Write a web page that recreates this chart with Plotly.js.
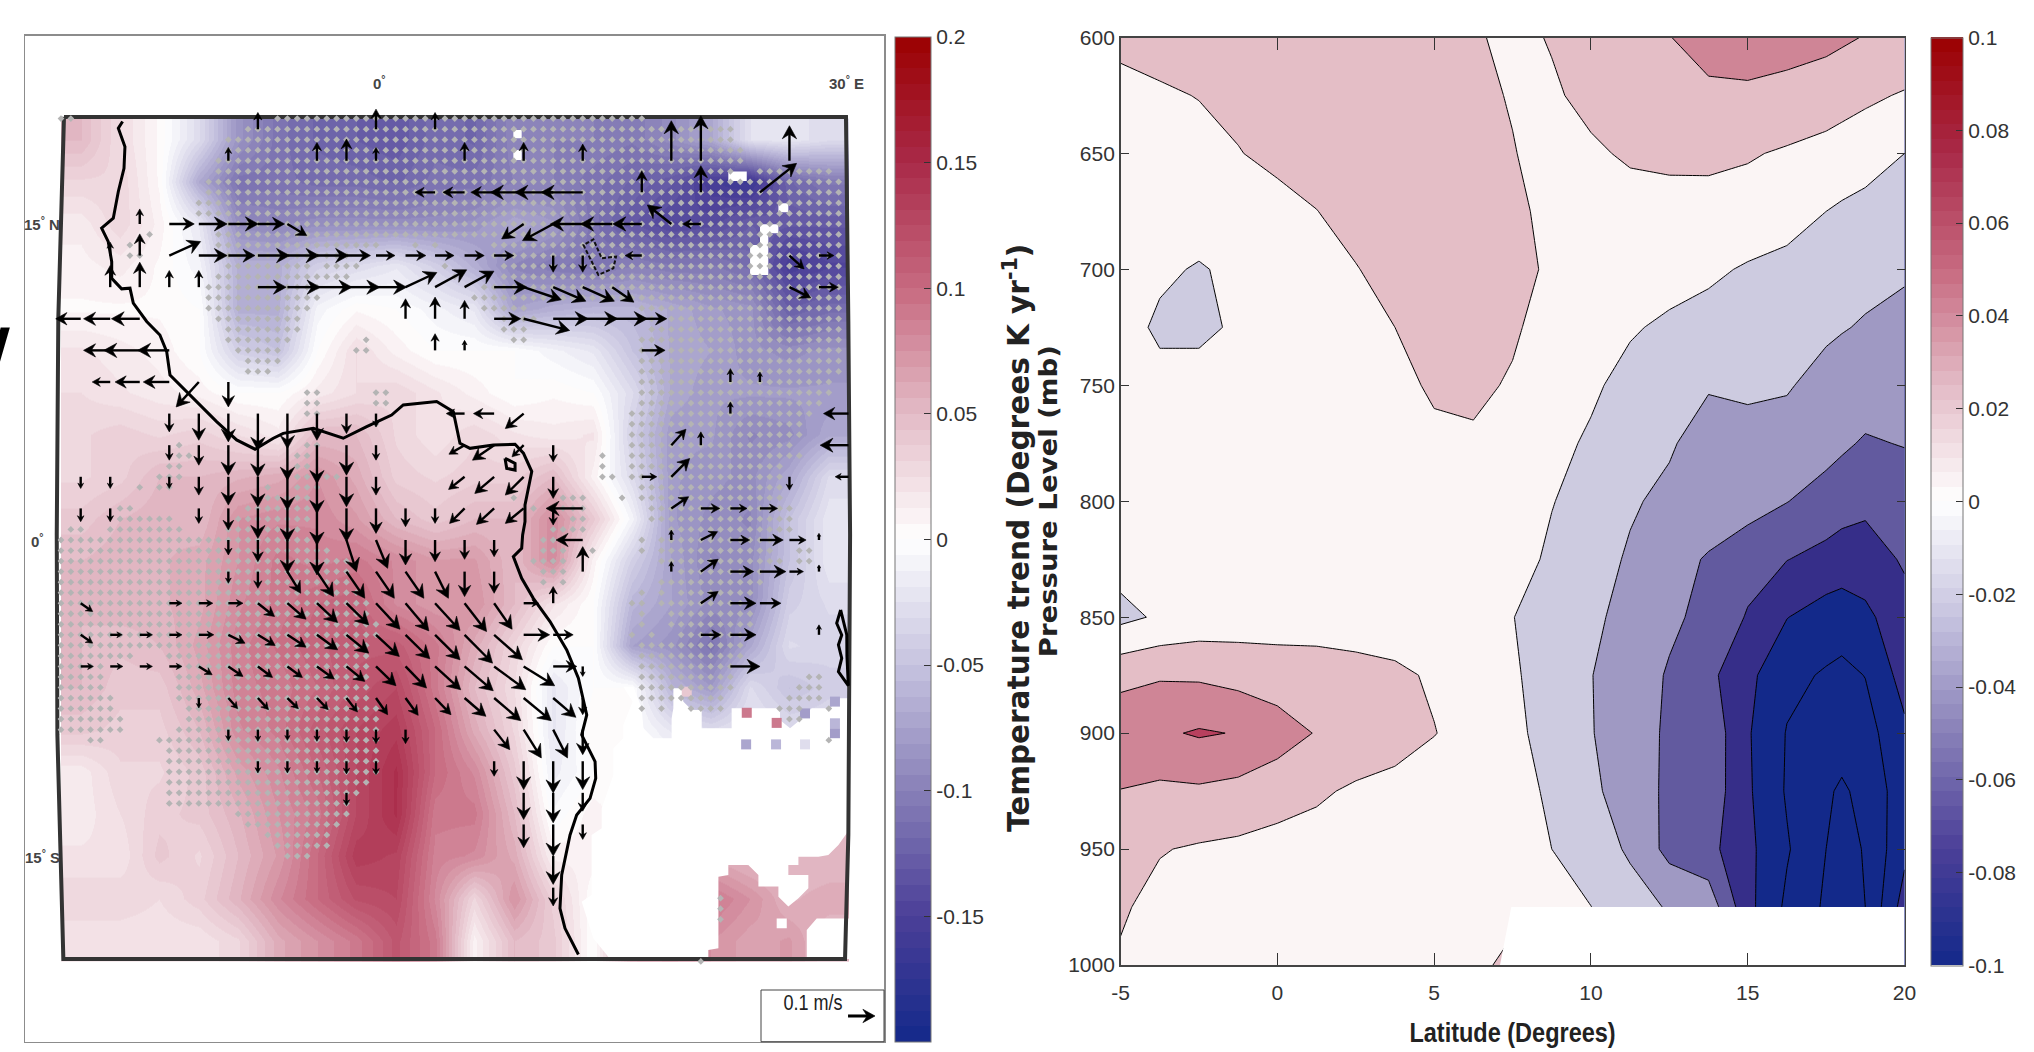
<!DOCTYPE html>
<html><head><meta charset="utf-8">
<script src="https://cdn.plot.ly/plotly-3.0.1.min.js"></script>
<style>html,body{margin:0;padding:0;background:#fff;overflow:hidden}</style>
</head><body><div id="chart" style="width:2034px;height:1052px"></div>
<script>
// ---------- Left panel: trend map (K/yr) ----------
const heatLon = [-18.75,-16.25,-13.75,-11.25,-8.75,-6.25,-3.75,-1.25,1.25,3.75,6.25,8.75,11.25,13.75,16.25,18.75,21.25,23.75,26.25,28.75];
const heatLat = [19,17,15,13,11,9,7,5,3,1,-1,-3,-5,-7,-9,-11,-13,-15,-17,-19];
const heatTrend = [
[.05,.025,.005,-.03,-.085,-.11,-.12,-.125,-.13,-.115,-.12,-.095,-.1,-.1,-.105,-.09,-.07,-.025,-.02,-.03],
[.03,.03,.005,-.07,-.11,-.11,-.115,-.115,-.12,-.11,-.11,-.1,-.1,-.11,-.12,-.13,-.155,-.165,-.12,-.105],
[.015,.03,.01,-.02,-.09,-.095,-.09,-.09,-.09,-.09,-.085,-.07,-.08,-.11,-.13,-.145,-.14,-.125,-.13,-.13],
[.01,.015,.005,-.01,-.065,-.065,-.04,-.03,-.02,-.04,-.065,-.095,-.105,-.11,-.1,-.105,-.105,-.115,-.155,-.145],
[.005,.005,.005,0,-.065,-.065,-.01,.005,0,-.01,-.02,-.075,-.065,-.06,-.06,-.07,-.08,-.085,-.125,-.115],
[.02,.015,.01,0,-.04,-.05,0,.025,.01,0,0,0,-.01,-.02,-.05,-.07,-.075,-.085,-.09,-.085],
[.025,.02,.015,.01,0,0,.015,.025,.03,.02,.01,0,.005,0,-.03,-.07,-.08,-.08,-.08,-.08],
[.03,.035,.03,.035,.025,.015,.05,.05,.03,.02,.03,.02,.015,.02,-.04,-.08,-.08,-.095,-.09,-.07],
[.03,.035,.05,.05,.055,.06,.075,.06,.035,.03,.035,.035,.05,.01,-.03,-.08,-.085,-.09,-.07,-.03],
[.04,.05,.055,.05,.075,.08,.08,.07,.05,.04,.05,.05,.08,.04,-.01,-.08,-.09,-.095,-.05,-.02],
[.05,.055,.055,.06,.075,.09,.085,.09,.08,.07,.07,.05,.08,.01,-.04,-.075,-.095,-.09,-.05,-.02],
[.05,.055,.055,.06,.08,.09,.10,.105,.08,.07,.075,.05,.02,0,-.06,-.075,-.09,-.09,-.04,-.03],
[.05,.045,.05,.065,.085,.095,.105,.11,.11,.09,.06,.03,0,0,-.075,-.085,-.11,-.07,-.03,-.035],
[.05,.04,.04,.06,.085,.09,.10,.115,.125,.09,.05,.025,-.02,0,0,-.06,-.08,-.03,-.05,-.04],
[.04,.035,.035,.05,.08,.09,.11,.125,.135,.10,.06,.03,-.02,.005,0,-.02,-.03,-.02,-.03,-.03],
[.015,.03,.03,.04,.065,.08,.10,.125,.145,.10,.08,.04,-.015,0,0,0,0,0,0,0],
[.015,.025,.035,.04,.055,.075,.09,.125,.145,.09,.09,.05,-.005,.01,0,.05,.05,.05,.05,.05],
[.02,.02,.04,.03,.05,.07,.10,.135,.13,.085,.08,.06,.01,.01,.06,.06,.06,.05,.05,.05],
[.03,.03,.025,.035,.055,.08,.10,.12,.125,.08,.03,.075,.035,0,.08,.09,.09,.075,.055,.06],
[.02,.02,.02,.02,.03,.06,.075,.09,.115,.09,.01,.05,.04,0,.08,.09,.075,.065,.07,.05]
];
// isolated valid cells in the otherwise masked land area
const cellLon = [23.54,25.44,23.5,25.4,27.24,29.14,29.14,27.24,29.14,19.73];
const cellLat = [-8.2,-8.68,-9.7,-9.7,-9.7,-9.17,-8.7,-8.23,-7.67,-7.2];
const cellVal = [.09,.09,-.07,-.06,-.03,-.08,-.06,-.08,-.07,.04];
// no-data regions (lon,lat outlines, null separates regions)
const maskLon = [14.86,13.8,13.06,13.69,13.69,14.33,14.33,15.07,15.07,15.7,15.7,16.3,15.7,16.34,16.87,16.98,17.61,18.77,18.77,18.88,18.88,19.41,19.51,20.04,20.68,20.68,22.58,22.58,25.65,25.65,26.29,26.92,27.66,28.83,29.46,30.3,30.3,29.89,29.36,28.72,28.09,26.82,26.82,26.18,26.18,27.45,27.45,26.82,26.18,25.55,25.55,24.28,24.28,23.64,22.37,22.37,21.74,21.74,21.1,21.1,14.86,null,
 27.35,27.35,27.98,30.3,30.3,27.35,null, 25.44,26.08,26.08,25.44,25.44,null,
 8.72,9.25,9.25,8.72,8.72,null, 8.72,9.25,9.25,8.72,8.72,null, 22.37,23.54,23.54,22.37,22.37,null, 25.55,26.18,26.18,25.55,25.55,null,
 24.38,25.55,25.55,24.91,24.91,23.75,23.75,24.38,24.38];
const maskLat = [-19.89,-18.9,-17.17,-16.85,-14,-13.68,-12.73,-11.15,-9.89,-9.41,-8.78,-7.67,-6.96,-6.96,-7.99,-8.94,-9.41,-9.41,-8.46,-7.99,-7.04,-7.04,-7.67,-8.07,-8.07,-8.94,-8.94,-7.99,-7.99,-8.54,-8.94,-8.54,-7.99,-7.99,-7.51,-7.51,-13.92,-13.92,-14.48,-14.95,-15.03,-15.03,-15.42,-15.42,-15.9,-15.9,-16.53,-17,-17.4,-16.93,-16.45,-16.45,-15.9,-15.42,-15.42,-15.9,-15.98,-19.38,-19.46,-19.89,-19.89,null,
 -19.89,-18.51,-17.96,-17.96,-19.89,-19.89,null, -17.96,-17.96,-18.43,-18.43,-17.96,null,
 19.46,19.46,19.07,19.07,19.46,null, 18.51,18.51,18.04,18.04,18.51,null, 17.49,17.49,17.04,17.04,17.49,null, 15.98,15.98,15.55,15.55,15.98,null,
 14.99,14.99,14.56,14.56,12.58,12.58,14,14,14.99];
const coastLon = [-16.09,-16.36,-15.94,-16,-16.36,-16.68,-17.42,-17,-16.78,-16.78,-16.15,-15.62,-15.41,-14.56,-13.72,-13.29,-13.08,-11.6,-10.12,-8.85,-7.68,-6.52,-5.89,-3.98,-2.08,-.59,.99,1.73,3.85,4.91,5.33,5.97,7.45,8.83,9.36,9.89,9.46,9.46,9.31,9.25,8.72,9.25,9.99,11.05,12.11,12.85,13.38,13.06,13.91,13.95,13.59,12.74,12.32,11.79,11.68,12,12.85,null,
 8.19,8.83,8.83,8.3,8.19,null, 29.5,29.25,29.57,29.36,29.57,29.36,29.99,29.9,29.89,29.5];
const coastLat = [19.86,19.54,18.67,17.64,16.54,15.27,14.8,14.16,13.21,12.42,11.92,11.95,11.24,10.37,9.73,8.94,7.83,6.73,5.62,4.75,4.31,4.83,5.06,5.3,4.83,5.38,5.93,6.41,6.57,6.09,4.59,4.35,4.51,4.54,4.12,3.25,1.66,.87,.24,-.39,-.79,-1.82,-2.77,-3.87,-5.22,-6.56,-8.3,-9.25,-10.52,-11.31,-12.26,-13.05,-14,-15.9,-17.48,-18.43,-19.67,null,
 3.88,3.64,3.32,3.4,3.88,null, -3.32,-3.95,-4.51,-4.98,-5.61,-6.25,-6.91,-5.5,-4.5,-3.32];
const lakeLon = [13.27,13.17,13.8,14.12,14.33,15.24,15.07,14.12,13.69,13.27];
const lakeLat = [13.85,14,14.27,13.69,13.37,13.45,12.9,12.58,13.21,13.85];
const frameLon = [-19.81,29.84,29.99,30.1,29.99,29.78,-19.85,-20.23,-20.27,-20.17,-19.81];
const frameLat = [20.08,20.08,10.35,.24,-14,-19.89,-19.89,-9.25,.24,10.54,20.08];
// significance stipple: [row n (lat=n*0.5), from m, to m, from m, to m...] with lon=m*0.625
const stippleRuns = [
[40,-32,-31,-10,27],[39,-13,36],[38,-15,36],[37,-15,37],[36,-16,37],[35,-16,36,39,46],[34,-17,47],[33,-17,47],[32,-18,47],[31,-18,47],[30,-16,47],
[29,-23,-23,-16,47],[28,-25,-25,-16,0,4,4,6,6,12,47],[27,-25,-24,-15,-3,12,47],[26,-15,-7,-5,-2,7,7,13,47],[25,-16,-3,8,8,13,47],[24,-17,-6,11,47],[23,-17,-6,10,47],
[22,-17,-7,11,15,27,47],[21,-16,-8,13,16,28,47],[20,-15,-8,13,15,28,47],[19,-15,-9,-1,-1,14,15,27,47],[18,-14,-10,-2,-1,27,47],[17,-13,-10,27,47],[16,-13,-11,27,47],[15,27,46],
[14,-7,-6,0,1,27,46],[13,-7,-6,0,1,27,45],[12,-7,-6,26,44],[11,0,0,26,43],[10,26,43],[9,-20,-20,-7,-6,26,42],[8,-20,-19,-8,-7,23,23,26,43],[7,-21,-20,-8,-7,23,23,26,41],
[6,-22,-20,-8,-4,23,24,26,41],[5,-24,-24,-22,-21,-11,-11,-8,-6,27,41],[4,-11,-7,14,14,19,21,25,25,27,41],[3,-26,-25,-13,-7,16,16,18,21,28,42],[2,-26,-21,-14,-7,20,21,28,42],[1,-31,-30,-27,-20,-15,-8,18,21,30,42],
[0,-32,-6,17,18,27,27,29,40],[-1,-32,-5,17,19,22,22,27,27,29,40,43,44],[-2,-32,-3,16,19,29,41,43,44],[-3,-32,-3,17,19,31,39],[-4,-32,-3,17,17,19,19,29,39],[-5,-32,-2,27,27,29,29,31,38],
[-6,-32,-1,26,27,29,38],[-7,-32,-1,27,27,30,38],[-8,-32,0,27,27,30,38],[-9,-32,0,26,26,28,28,31,38],[-10,-32,-1,27,37],[-11,-32,-25,-21,-1,27,37],[-12,-32,-28,-20,-1,27,36],[-13,-32,-28,-20,-1,27,36,44,45],
[-14,-32,-28,-20,-1,27,36,43,45],[-15,-32,-27,-20,-1,27,35,42,45],[-16,-32,-27,-19,0,27,27,29,29,32,35,41,43,46,46],[-17,-32,-26,-19,0,42,43],[-18,-32,-26,-20,0],[-19,-29,-28,-22,0,46,46],
[-20,-21,0],[-21,-21,0],[-22,-21,0],[-23,-21,-1],[-24,-21,-2],[-25,-21,-3],[-26,-14,-3],[-27,-13,-4],[-28,-11,-5],[-29,-10,-5],[-30,-9,-7],[-34,35,35],[-35,35,35],[-36,35,35],[-40,33,33]
];
// wind-change vectors: [lat, [k (lon=k*1.875), u, v], ...]; 81 units = 0.1 m/s
const windRows = [
[19.5,[-4,0,50],[0,0,60],[2,0,50]],
[18,[-5,0,40],[-2,0,55],[-1,0,65],[0,0,40],[3,0,55],[5,0,55],[7,0,50],[10,0,120],[11,0,135],[14,0,105]],
[16.5,[2,-60,0],[3,-65,0],[4,-70,0],[5,-100,0],[6,-115,0],[7,-125,0],[9,0,65],[11,0,80],[13,110,87]],
[15,[-8,0,45],[-7,75,0],[-6,85,0],[-5,90,0],[-4,80,0],[-3,58,-35],[5,-66,-45],[6,-92,-50],[7,-97,0],[8,-95,0],[9,-87,0],[10,-72,57],[11,-55,0]],
[13.5,[-9,0,40],[-8,0,65],[-7,94,42],[-6,85,0],[-5,80,0],[-4,95,0],[-3,95,0],[-2,95,0],[-1,72,0],[0,57,0],[1,61,0],[2,57,0],[3,59,0],[4,59,0],[6,0,-50],[7,0,-50],[9,-50,0],[14,44,-40],[15,45,0]],
[12,[-9,0,65],[-8,0,75],[-7,0,50],[-6,0,50],[-4,85,0],[-3,98,0],[-2,105,0],[-1,100,0],[0,92,0],[1,94,44],[2,95,52],[3,88,48],[4,99,0],[5,113,-38],[6,98,-42],[7,95,-42],[8,65,-45],[14,64,-32],[15,58,0]],
[10.5,[-10,-75,0],[-9,-80,0],[-8,-85,0],[1,0,60],[2,0,65],[3,0,55],[4,80,0],[5,138,-35],[6,105,0],[7,105,0],[8,105,0],[9,75,0]],
[9,[-9,-80,0],[-8,-108,0],[-7,-95,0],[2,0,50],[3,0,30],[9,70,0]],
[7.5,[-9,-54,0],[-8,-74,0],[-7,-78,0],[-6,-68,-75],[-5,0,-75],[12,0,40],[13,0,30]],
[6,[-7,0,-55],[-6,0,-80],[-5,0,-85],[-4,0,-110],[-3,0,-105],[-2,0,-80],[-1,0,-60],[0,0,-40],[3,-55,0],[4,-62,0],[5,-55,-45],[12,0,35],[16,-75,0]],
[4.5,[-7,0,-45],[-6,0,-60],[-5,0,-90],[-4,0,-95],[-3,0,-105],[-2,0,-115],[-1,0,-90],[0,0,-45],[3,-47,-27],[4,-65,-45],[5,-35,-35],[6,0,-50],[10,44,48],[11,0,40],[16,-85,0]],
[3,[-10,0,-35],[-9,0,-35],[-7,0,-35],[-6,0,-55],[-5,0,-85],[-4,0,-90],[-3,0,-100],[-2,0,-110],[-1,0,-90],[0,0,-55],[3,-48,-38],[4,-58,-50],[5,-55,-55],[6,0,-65],[9,45,0],[10,55,55],[14,0,-40],[16,-40,0]],
[1.5,[-10,0,-40],[-9,0,-40],[-6,0,-45],[-5,0,-65],[-4,0,-90],[-3,0,-100],[-2,0,-110],[-1,0,-100],[0,0,-75],[1,0,-55],[2,0,-45],[3,-45,-45],[4,-53,-48],[5,-55,-45],[6,0,-50],[7,-110,0],[10,52,35],[11,57,0],[12,50,0],[13,53,0]],
[0,[-5,0,-45],[-4,0,-65],[-3,0,-100],[-2,0,-105],[-1,30,-95],[0,35,-85],[1,0,-75],[2,0,-65],[3,0,-58],[4,0,-50],[7,-80,0],[10,0,30],[11,50,25],[12,58,0],[13,70,0],[14,50,0],[15,0,20]],
[-1.5,[-5,0,-35],[-4,0,-50],[-3,40,-65],[-2,50,-75],[-1,55,-80],[0,55,-80],[1,55,-80],[2,40,-80],[3,0,-75],[4,0,-65],[7,0,75],[10,0,30],[11,52,37],[12,70,0],[13,78,0],[14,42,0],[15,0,20]],
[-3,[-10,36,-25],[-7,38,0],[-6,42,0],[-5,44,0],[-4,50,-40],[-3,56,-48],[-2,62,-58],[-1,67,-65],[0,72,-78],[1,70,-83],[2,75,-82],[3,66,-85],[4,54,-78],[5,45,0],[6,0,50],[11,52,35],[12,77,0],[13,63,0]],
[-4.5,[-10,36,-25],[-9,36,0],[-8,38,0],[-7,38,0],[-6,45,0],[-5,50,-25],[-4,52,-32],[-3,56,-37],[-2,62,-45],[-1,67,-55],[0,70,-65],[1,73,-72],[2,75,-75],[3,84,-85],[4,85,-75],[5,78,0],[6,60,0],[11,60,0],[12,77,0],[15,0,30]],
[-6,[-10,38,0],[-9,38,0],[-8,38,0],[-7,38,0],[-6,40,-25],[-5,44,-30],[-4,44,-33],[-3,45,-33],[-2,52,-38],[-1,55,-45],[0,60,-58],[1,63,-65],[2,77,-70],[3,86,-73],[4,95,-70],[5,93,-58],[6,71,0],[7,0,-30],[12,89,0]],
[-7.5,[-6,0,-30],[-5,28,-32],[-4,32,-35],[-3,33,-32],[-2,34,-35],[-1,33,-42],[0,35,-50],[1,38,-52],[2,48,-50],[3,64,-55],[4,80,-68],[5,83,-68],[6,68,-58],[7,0,-50]],
[-9,[-5,0,-33],[-4,0,-35],[-3,0,-32],[-2,0,-35],[-1,0,-38],[0,0,-42],[1,0,-42],[4,47,-60],[5,53,-85],[6,43,-85],[7,0,-75]],
[-10.5,[-4,0,-35],[-3,0,-35],[-2,0,-35],[-1,0,-38],[0,0,-40],[4,0,-45],[5,0,-85],[6,0,-95],[7,0,-85]],
[-12,[-1,0,-38],[5,0,-80],[6,0,-90],[7,0,-55]],
[-13.5,[5,0,-70],[6,0,-95],[7,0,-45]],
[-15,[6,0,-85]],
[-16.5,[6,0,-55]]
];
const legendArrow = {lon:29.97, lat:-22.59, u:81, v:0};

// ---------- Right panel: zonal-mean section ----------
const secLat = [-5,-3.75,-2.5,-1.25,0,1.25,2.5,3.75,5,6.25,7.5,8.75,10,11.25,12.5,13.75,15,16.25,17.5,18,18.75,20];
const secP = [600,625,650,675,700,725,750,775,800,825,850,875,900,925,950,975,1000];
const secTrendMilli = [
[14,16,18,19,20,20,20,18,15,11.5,7,10.8,16,23,29.5,37,40,39,36,33,29,24],
[5,8,10.5,13,15,16,16,15,14,12,9.4,8.5,13,18,23,26.5,26.5,23,18,16,13,8.5],
[1,3,5,9.5,13,15,16,16,15,13,10.4,7,8.3,11.5,13,13.5,11.5,8,5,3,0,-10],
[1,0,-1,2,6,9.8,14,16,16,14,12.5,7,6,5.5,5,4.4,3,0,-10,-13,-17,-24],
[0,-7,-11.5,-6,0,5,9.5,14,16,15,13,8.5,2,0,-2,-6.5,-12,-17,-21,-22.5,-25,-27],
[-3,-13,-13,-8,-2,0,4,10,14,15,12,4,-3,-8,-13.5,-17,-20,-23,-27,-29,-31.5,-37],
[0,-4.7,-4.7,-2,0,1,3,6,12,13,8.5,0,-7,-16,-23,-28.5,-28,-28.5,-36,-38,-40,-45],
[0,0,0,0,1,2,3,4,7,8,4,-5,-12.5,-21,-28,-38,-34,-37,-43,-47,-52,-49],
[0,0,0,0,1,1,2,2,3,3,0,-9.3,-17,-28,-34,-37,-41,-49.5,-58,-61,-66,-62],
[-3,0,0,0,0,1,1,2,2,1,-3,-13,-23,-32,-42,-52,-63,-69.5,-76,-80,-78,-68],
[-15,-7.4,-2,0,0,0,1,1,1,-1,-9.5,-20,-26,-36.5,-46,-56,-71.5,-89.5,-99,-100,-95,-76],
[24,28,27,23,21,20,16,13,8,2,-8,-17,-29.5,-39,-52,-65,-85,-105,-112,-115,-109.5,-82],
[44,47,52,49,38,29,24,18,10.5,4,-5,-18,-29,-41,-53,-56,-88,-111,-119,-120.5,-118,-94],
[29.5,26,27,24,20,13,7,4,2,1,-3,-13,-25,-42,-53,-57,-87,-112,-127,-133,-124,-99],
[15,11,8,6,2,2,1,0,0,0,-2,-10,-19,-33,-56,-64,-85,-108,-130,-140,-128,-95],
[12,5,2,1,0,0,0,0,0,0,0,-3,-9.8,-21,-32,-38,-84,-114,-133,-142,-130,-81],
[8,2,0,0,0,0,0,0,0,0,20,-3,-10,-21,-32,-38,-84,-114,-133,-142,-130,-81]
];
const secBandColors = ['#13298A','#13298A','#13298A','#362E89','#625A9F','#9F99C3','#CDCBE0','#FBF5F5','#E4BEC6','#CF8596','#B8405E'];
const secMaskLat = [7.1,7.46,20,20,7.1];
const secMaskP = [1000,975,975,1000,1000];
const latTicks = [-5,0,5,10,15,20];
const latTickLabels = ['-5','0','5','10','15','20'];

// ---------- colour bars ----------
const paletteAnchors = ['#13298A','#4B3F98','#8880B8','#C6C3DF','#FFFFFF','#E3BBC6','#C76A80','#A92A49','#9B0000'];
const colorSteps = 64;
const leftBarTicks = [-.2,-.15,-.1,-.05,0,.05,.1,.15,.2];
const leftBarLabels = ['-0.2','-0.15','-0.1','-0.05','0','0.05','0.1','0.15','0.2'];
const rightBarTicks = [-.1,-.08,-.06,-.04,-.02,0,.02,.04,.06,.08,.1];
const rightBarLabels = ['-0.1','-0.08','-0.06','-0.04','-0.02','0','0.02','0.04','0.06','0.08','0.1'];

// ---------- page geometry ----------
const W = 2034, H = 1052;
const SANS = '"Liberation Sans",sans-serif';
const px2x = p => p / W, px2y = p => 1 - p / H;
const mapPx = {l:25, r:884, t:35.7, b:1041.7};
const lonPx = 15.75, latPx = 21.07, lon0Px = 376, lat0Px = 540;
const lonRange = [(mapPx.l-lon0Px)/lonPx, (mapPx.r-lon0Px)/lonPx];
const latRange = [(lat0Px-mapPx.b)/latPx, (lat0Px-mapPx.t)/latPx];

function hexRgb(h){return [1,3,5].map(i=>parseInt(h.substr(i,2),16));}
function stepScale(){
  const out=[], n=paletteAnchors.length-1;
  for(let i=0;i<colorSteps;i++){
    const f=(i+.5)/colorSteps*n, a=Math.min(Math.floor(f),n-1), t=f-a;
    const A=hexRgb(paletteAnchors[a]),B=hexRgb(paletteAnchors[a+1]);
    const c='rgb('+A.map((v,j)=>Math.round(v+(B[j]-v)*t)).join(',')+')';
    out.push([i/colorSteps,c],[(i+1)/colorSteps,c]);
  }
  return out;
}
const palette = stepScale();

// quiver geometry (through the map's lon/lat scale)
function buildArrows(list){
  const sx=[],sy=[],hx=[],hy=[];
  list.forEach(a=>{
    const dx=a.u/3, dy=a.v/3, L=Math.hypot(dx,dy); if(!L) return;
    const ux=dx/L, uy=dy/L, hl=Math.min(L*.45,13), hw=hl*.55;
    const toLon=p=>a.lon+p/lonPx, toLat=p=>a.lat+p/latPx;
    sx.push(a.lon,toLon(dx-ux*hl*.5),null); sy.push(a.lat,toLat(dy-uy*hl*.5),null);
    const bx=dx-ux*hl, by=dy-uy*hl, nx=bx+ux*hl*.35, ny=by+uy*hl*.35;
    hx.push(toLon(dx),toLon(bx-uy*hw),toLon(nx),toLon(bx+uy*hw),toLon(dx),null);
    hy.push(toLat(dy),toLat(by+ux*hw),toLat(ny),toLat(by-ux*hw),toLat(dy),null);
  });
  return {sx,sy,hx,hy};
}
const windList=[];
windRows.forEach(r=>{const lat=r[0]; r.slice(1).forEach(c=>windList.push({lon:c[0]*1.875,lat,u:c[1],v:c[2]}));});
const arrows=buildArrows(windList), legArrow=buildArrows([legendArrow]);

const stipX=[],stipY=[];
stippleRuns.forEach(r=>{for(let i=1;i<r.length;i+=2)for(let m=r[i];m<=r[i+1];m++){stipX.push(m*.625);stipY.push(r[0]*.5);}});

const traces=[
 {type:'heatmap',x:heatLon,y:heatLat,z:heatTrend,zsmooth:'best',zmin:-.2,zmax:.2,colorscale:palette,xaxis:'x',yaxis:'y',hoverinfo:'skip',
  colorbar:{x:px2x(895.4),xanchor:'left',xpad:0,ypad:0,y:px2y(37),yanchor:'top',lenmode:'pixels',len:1004.7,thicknessmode:'pixels',thickness:35.6,
   outlinecolor:'#777',outlinewidth:1,ticks:'inside',ticklen:7,tickcolor:'#333',tickmode:'array',tickvals:leftBarTicks,ticktext:leftBarLabels,
   tickfont:{family:SANS,size:21,color:'#333'}}},
 {type:'scatter',mode:'lines',x:maskLon,y:maskLat,fill:'toself',fillcolor:'#fff',line:{width:0,color:'#fff'},xaxis:'x',yaxis:'y',hoverinfo:'skip'},
 {type:'scatter',mode:'markers',x:cellLon,y:cellLat,xaxis:'x',yaxis:'y',hoverinfo:'skip',
  marker:{symbol:'square',size:10,color:cellVal,cmin:-.2,cmax:.2,colorscale:palette,showscale:false,line:{width:0}}},
 {type:'scatter',mode:'lines',x:frameLon,y:frameLat,line:{color:'#333',width:4},xaxis:'x',yaxis:'y',hoverinfo:'skip'},
 {type:'scatter',mode:'markers',x:stipX,y:stipY,xaxis:'x',yaxis:'y',hoverinfo:'skip',
  marker:{symbol:'diamond',size:5.2,color:'#B4B4B4',line:{width:0}}},
 {type:'scatter',mode:'lines',x:coastLon,y:coastLat,line:{color:'#000',width:3},xaxis:'x',yaxis:'y',hoverinfo:'skip'},
 {type:'scatter',mode:'lines',x:lakeLon,y:lakeLat,line:{color:'#111',width:2,dash:'4px,2px'},xaxis:'x',yaxis:'y',hoverinfo:'skip'},
 {type:'scatter',mode:'lines',x:arrows.sx,y:arrows.sy,line:{color:'#000',width:2.4},xaxis:'x',yaxis:'y',hoverinfo:'skip'},
 {type:'scatter',mode:'lines',x:arrows.hx,y:arrows.hy,fill:'toself',fillcolor:'#000',line:{color:'#000',width:.6},xaxis:'x',yaxis:'y',hoverinfo:'skip'},
 {type:'scatter',mode:'lines',x:legArrow.sx,y:legArrow.sy,line:{color:'#000',width:3},xaxis:'x',yaxis:'y',hoverinfo:'skip',cliponaxis:false},
 {type:'scatter',mode:'lines',x:legArrow.hx,y:legArrow.hy,fill:'toself',fillcolor:'#000',line:{color:'#000',width:.6},xaxis:'x',yaxis:'y',hoverinfo:'skip',cliponaxis:false},
 // right panel
 {type:'contour',x:secLat,y:secP,z:secTrendMilli.map(r=>r.map(v=>v/1000)),xaxis:'x2',yaxis:'y2',showscale:false,hoverinfo:'skip',
  autocontour:false,contours:{start:-.13,end:.05,size:.02,coloring:'fill'},line:{color:'#000',width:1,smoothing:0},
  colorscale:secBandColors.map((c,i)=>[i/10,c])},
 {type:'scatter',mode:'lines',x:secMaskLat,y:secMaskP,fill:'toself',fillcolor:'#fff',line:{width:0,color:'#fff'},xaxis:'x2',yaxis:'y2',hoverinfo:'skip'},
 // colour bar key of the section (its single cell lies outside the axis range)
 {type:'heatmap',x:[100,101],y:[100,101],z:[[-.1,.1],[-.1,.1]],zmin:-.1,zmax:.1,colorscale:palette,xaxis:'x2',yaxis:'y2',hoverinfo:'skip',
  colorbar:{x:px2x(1931),xanchor:'left',xpad:0,ypad:0,y:px2y(37.5),yanchor:'top',lenmode:'pixels',len:927.5,thicknessmode:'pixels',thickness:32,
   outlinecolor:'#777',outlinewidth:1,ticks:'inside',ticklen:7,tickcolor:'#333',tickmode:'array',tickvals:rightBarTicks,ticktext:rightBarLabels,
   tickfont:{family:SANS,size:21,color:'#333'}}}
];

const mapLabel=(text,lon,lat)=>({text,x:lon,y:lat,xref:'x',yref:'y',showarrow:false,xanchor:'center',yanchor:'middle',
  font:{family:SANS,size:15,color:'#444',weight:700}});
const layout={
 width:W,height:H,paper_bgcolor:'#fff',plot_bgcolor:'#fff',showlegend:false,
 margin:{l:0,r:0,t:0,b:0,autoexpand:false},
 xaxis:{domain:[px2x(mapPx.l),px2x(mapPx.r)],range:lonRange,showgrid:false,zeroline:false,showticklabels:false,ticks:'',showline:true,mirror:true,linecolor:'#8c8c8c',linewidth:1.5},
 yaxis:{domain:[px2y(mapPx.b),px2y(mapPx.t)],range:latRange,showgrid:false,zeroline:false,showticklabels:false,ticks:'',showline:true,mirror:true,linecolor:'#8c8c8c',linewidth:1.5},
 xaxis2:{domain:[px2x(1120.6),px2x(1904.5)],range:[-5,20],anchor:'y2',tickmode:'array',tickvals:latTicks,ticktext:latTickLabels,ticks:'inside',ticklen:12,tickwidth:1,tickcolor:'#333',showgrid:false,zeroline:false,showline:true,mirror:'ticks',linecolor:'#444',linewidth:1.5,ticklabelstandoff:8,
   tickfont:{family:SANS,size:21,color:'#333'},title:{text:'Latitude (Degrees)',standoff:20,font:{family:SANS,size:27,color:'#222',weight:700}}},
 yaxis2:{domain:[px2y(965),px2y(37.5)],range:[1000,600],anchor:'x2',dtick:50,tick0:600,ticks:'inside',ticklen:8,tickwidth:1,tickcolor:'#333',showgrid:false,zeroline:false,showline:true,mirror:'ticks',linecolor:'#444',linewidth:1.5,
   tickfont:{family:SANS,size:21,color:'#333'},title:{text:'Pressure Level (mb)',standoff:4,font:{family:'"DejaVu Sans"',size:24,color:'#222',weight:700}}},
 shapes:[{type:'rect',xref:'paper',yref:'paper',x0:px2x(761),x1:px2x(884),y0:px2y(1041.7),y1:px2y(990),line:{color:'#444',width:1},fillcolor:'rgba(0,0,0,0)'}],
 annotations:[
  mapLabel('0<sup>°</sup>',.2,21.7),
  mapLabel('30<sup>°</sup> E',29.85,21.7),
  mapLabel('15<sup>°</sup> N',-21.2,15),
  mapLabel('0<sup>°</sup>',-21.5,0),
  mapLabel('15<sup>°</sup> S',-21.2,-15),
  {text:'0.1 m/s',xref:'paper',yref:'paper',x:px2x(813),y:px2y(1017),showarrow:false,font:{family:SANS,size:22,color:'#222'}},
  {text:'<b>Temperature trend (Degrees K yr<sup>-1</sup>)</b>',xref:'paper',yref:'paper',x:px2x(1017),y:px2y(538),textangle:-90,showarrow:false,font:{family:'"DejaVu Sans"',size:29.5,color:'#222'}},
  {text:'y',xref:'paper',yref:'paper',x:px2x(32),y:px2y(278),xanchor:'right',showarrow:false,font:{family:SANS,size:125,color:'#000',weight:700,style:'italic'}}
 ]
};
// the reference's tick and axis labels are set in a condensed cut: compress the real text
function fitText(el,ratio,len){
  const base=el.getComputedTextLength(); if(!base) return;
  el.setAttribute('textLength',len||base*ratio); el.setAttribute('lengthAdjust','spacingAndGlyphs');
}
Plotly.newPlot('chart',traces,layout,{staticPlot:true,displayModeBar:false}).then(gd=>{
  gd.querySelectorAll('.xtick text,.ytick text').forEach(t=>fitText(t,.84));
  gd.querySelectorAll('.x2title').forEach(t=>fitText(t,.87));
  gd.querySelectorAll('.y2title').forEach(t=>fitText(t,1,312));
  gd.querySelectorAll('.annotation-text').forEach(t=>{
    if(t.textContent==='0.1 m/s') fitText(t,.82);
    if(t.textContent==='y') fitText(t,.5);
  });
});
</script></body></html>
